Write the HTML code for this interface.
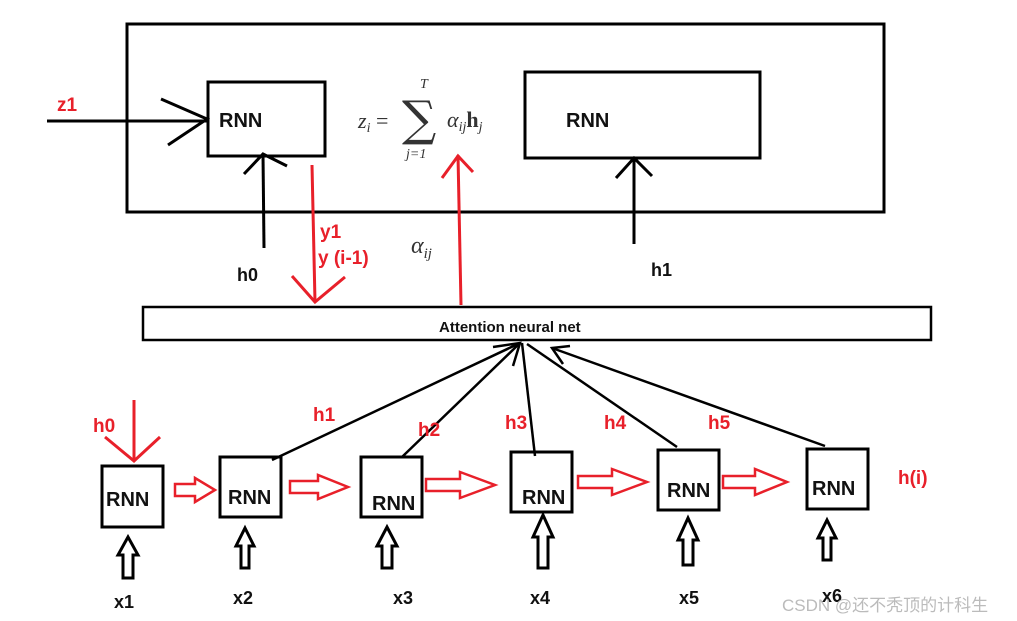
<!DOCTYPE html>
<html><head><meta charset="utf-8"><style>
html,body{margin:0;padding:0;background:#fff}
svg{display:block}
text{font-family:"Liberation Sans",sans-serif;font-weight:bold}
.m{font-family:"Liberation Serif",serif;font-weight:normal;font-style:italic;fill:#333}
.w{font-weight:normal;font-family:"Liberation Sans","Noto Sans CJK SC",sans-serif}
.s{font-weight:normal;font-family:"DejaVu Serif",serif}
</style></head><body>
<svg width="1017" height="621" viewBox="0 0 1017 621" xmlns="http://www.w3.org/2000/svg">
<g fill="none" stroke="#000" stroke-width="3">
<rect x="127" y="24" width="757" height="188"/>
<rect x="208" y="82" width="117" height="74"/>
<rect x="525" y="72" width="235" height="86"/>
<rect x="143" y="307" width="788" height="33" stroke-width="2.5"/>
<line x1="47" y1="121" x2="207" y2="121"/>
<polyline points="161,99 207,119 168,145"/>
<line x1="264" y1="248" x2="263" y2="154"/>
<polyline points="244,174 263,154 287,166"/>
<line x1="634" y1="244" x2="634" y2="158"/>
<polyline points="616,178 634,158 652,176"/>
</g>
<g fill="none" stroke="#e8202a" stroke-width="3">
<line x1="312" y1="165" x2="315" y2="302"/>
<polyline points="292,276 315,302 345,277"/>
<line x1="461" y1="305" x2="458" y2="155"/>
<polyline points="442,178 458,156 473,172"/>
<line x1="134" y1="400" x2="134" y2="461"/>
<polyline points="105,437 134,461 160,437"/>
</g>
<g fill="none" stroke="#000" stroke-width="2.5">
<line x1="272" y1="460" x2="520" y2="343"/>
<line x1="402" y1="457" x2="520" y2="343"/>
<line x1="535" y1="456" x2="522" y2="343"/>
<line x1="677" y1="447" x2="527" y2="344"/>
<line x1="825" y1="446" x2="552" y2="348"/>
<polyline points="493,347 520,343 513,366"/>
<polyline points="570,346 552,348 563,364"/>
</g>
<g fill="none" stroke="#000" stroke-width="3">
<rect x="102" y="466" width="61" height="61"/>
<rect x="220" y="457" width="61" height="60"/>
<rect x="361" y="457" width="61" height="60"/>
<rect x="511" y="452" width="61" height="60"/>
<rect x="658" y="450" width="61" height="60"/>
<rect x="807" y="449" width="61" height="60"/>
</g>
<g fill="none" stroke="#000" stroke-width="3">
<polygon points="128,537 138,555 133,555 133,578 123,578 123,555 118,555"/>
<polygon points="245,528 254,546 249,546 249,568 241,568 241,546 236,546"/>
<polygon points="387,527 397,546 392,546 392,568 382,568 382,546 377,546"/>
<polygon points="543,515 553,537 548,537 548,568 538,568 538,537 533,537"/>
<polygon points="688,518 698,540 693,540 693,565 683,565 683,540 678,540"/>
<polygon points="827,520 836,538 831,538 831,560 823,560 823,538 818,538"/>
</g>
<g fill="none" stroke="#e8202a" stroke-width="2.5">
<polygon points="175,484 195,484 195,478 215,490 195,502 195,496 175,496"/>
<polygon points="290,481 318,481 318,475 348,487 318,499 318,493 290,493"/>
<polygon points="426,479 460,479 460,472 495,485 460,498 460,491 426,491"/>
<polygon points="578,476 612,476 612,469 647,482 612,495 612,488 578,488"/>
<polygon points="723,476 755,476 755,469 787,482 755,495 755,488 723,488"/>
</g>
<g font-size="20" fill="#111">
<text x="219" y="127">RNN</text>
<text x="566" y="127">RNN</text>
<text x="106" y="506">RNN</text>
<text x="228" y="504">RNN</text>
<text x="372" y="510">RNN</text>
<text x="522" y="504">RNN</text>
<text x="667" y="497">RNN</text>
<text x="812" y="495">RNN</text>
</g>
<text x="439" y="332" font-size="15" fill="#111">Attention neural net</text>
<g font-size="18" fill="#111">
<text x="237" y="281">h0</text>
<text x="651" y="276">h1</text>
<text x="114" y="608">x1</text>
<text x="233" y="604">x2</text>
<text x="393" y="604">x3</text>
<text x="530" y="604">x4</text>
<text x="679" y="604">x5</text>
<text x="822" y="602">x6</text>
</g>
<g font-size="19" fill="#e8202a">
<text x="57" y="111">z1</text>
<text x="320" y="238">y1</text>
<text x="318" y="264">y  (i-1)</text>
<text x="93" y="432">h0</text>
<text x="313" y="421">h1</text>
<text x="418" y="436">h2</text>
<text x="505" y="429">h3</text>
<text x="604" y="429">h4</text>
<text x="708" y="429">h5</text>
<text x="898" y="484">h(i)</text>
</g>
<text class="m" x="358" y="128" font-size="22">z<tspan font-size="14" dy="4">i</tspan><tspan dy="-4" font-style="normal"> = </tspan></text>
<text class="s" x="402" y="135" font-size="48" fill="#333">∑</text>
<text class="m" x="420" y="88" font-size="14">T</text>
<text class="m" x="406" y="158" font-size="14">j=1</text>
<text class="m" x="447" y="127" font-size="22">α<tspan font-size="14" dy="4">ij</tspan><tspan dy="-4" font-style="normal" font-weight="bold">h</tspan><tspan font-size="14" dy="4">j</tspan></text>
<text class="m" x="411" y="253" font-size="24">α<tspan font-size="15" dy="5">ij</tspan></text>
<text class="w" x="782" y="611" font-size="17" fill="#bbb">CSDN @还不秃顶的计科生</text>
</svg>
</body></html>
